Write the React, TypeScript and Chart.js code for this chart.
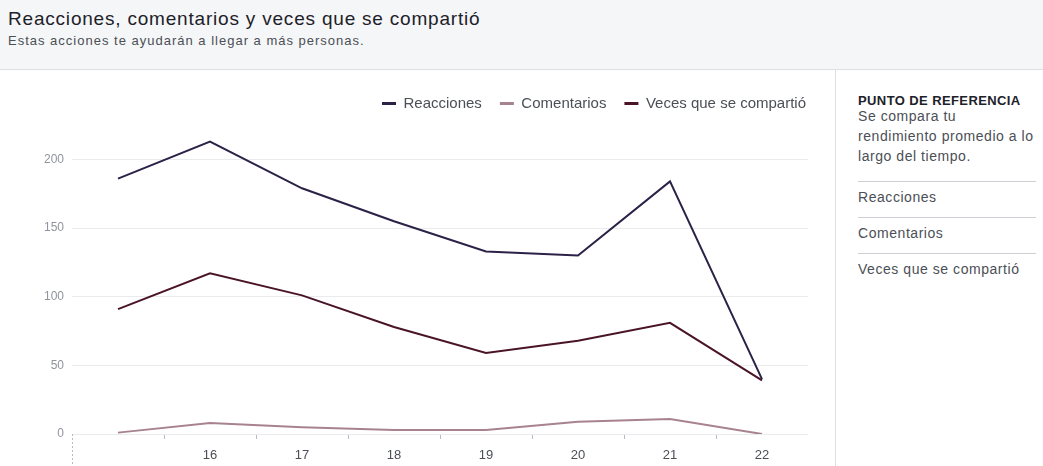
import React, { useEffect, useRef } from "react";
import { Chart, registerables } from "chart.js";

Chart.register(...registerables);

const FONT = '"Liberation Sans", Arial, Helvetica, sans-serif';

const titleText = "Reacciones, comentarios y veces que se compartió";
const subtitleText = "Estas acciones te ayudarán a llegar a más personas.";

const days = ["15", "16", "17", "18", "19", "20", "21", "22"];
const dayTickLabels = ["", "16", "17", "18", "19", "20", "21", "22"];
const reacciones = [186, 213, 179, 155, 133, 130, 184, 40];
const comentarios = [1, 8, 5, 3, 3, 9, 11, 0];
const compartido = [91, 117, 101, 78, 59, 68, 81, 39];
const yTickValues = [0, 50, 100, 150, 200];

const seriesNames = ["Reacciones", "Comentarios", "Veces que se compartió"];
const seriesColors = ["#2c2147", "#a8838f", "#4a1428"];

const benchmarkTitle = "PUNTO DE REFERENCIA";
const benchmarkDescLines = ["Se compara tu", "rendimiento promedio a lo", "largo del tiempo."];
const benchmarkItems = ["Reacciones", "Comentarios", "Veces que se compartió"];

const dottedAxisPlugin = {
  id: "dottedAxis",
  afterDraw(chart: any) {
    const { ctx, chartArea } = chart;
    ctx.save();
    ctx.strokeStyle = "#b7bac0";
    ctx.lineWidth = 1;
    ctx.setLineDash([2, 2]);
    ctx.beginPath();
    const x = Math.round(chartArea.left) + 0.5;
    ctx.moveTo(x, chartArea.bottom);
    ctx.lineTo(x, chart.height);
    ctx.stroke();
    ctx.restore();
  },
};

export default function App() {
  const canvasRef = useRef<HTMLCanvasElement>(null);

  useEffect(() => {
    document.body.style.margin = "0";
    Chart.defaults.font.family = FONT;
    const seriesValues = [reacciones, comentarios, compartido];
    const chart = new Chart(canvasRef.current as HTMLCanvasElement, {
      type: "line",
      data: {
        labels: days,
        datasets: seriesNames.map((name, i) => ({
          label: name,
          data: seriesValues[i],
          borderColor: seriesColors[i],
          backgroundColor: seriesColors[i],
          borderWidth: 2,
          pointRadius: 0,
          tension: 0,
          fill: false,
          yAxisID: "y",
        })),
      },
      options: {
        responsive: false,
        animation: false,
        layout: { padding: { left: 0, right: 12, top: 8, bottom: 0 } },
        plugins: {
          tooltip: { enabled: false },
          legend: {
            position: "top",
            align: "end",
            labels: {
              boxWidth: 14,
              boxHeight: 3,
              padding: 18,
              color: "#4b4f56",
              font: { size: 15, family: FONT },
              generateLabels: (c: any) =>
                c.data.datasets.map((d: any, i: number) => ({
                  text: d.label,
                  fillStyle: seriesColors[i],
                  strokeStyle: seriesColors[i],
                  lineWidth: 0,
                  hidden: false,
                  datasetIndex: i,
                  fontColor: "#4b4f56",
                })),
            },
          },
        },
        scales: {
          x: {
            offset: true,
            border: { display: false },
            grid: {
              display: true,
              offset: true,
              drawOnChartArea: false,
              drawTicks: true,
              tickLength: 5,
              color: (ctx: any) =>
                ctx.type !== "tick" || ctx.index === 0 ? "rgba(0,0,0,0)" : "#b9bcc1",
            },
            afterFit: (s: any) => {
              s.height = 32;
            },
            ticks: {
              autoSkip: false,
              maxRotation: 0,
              padding: 9,
              color: "#4b4f56",
              font: { size: 13, family: FONT },
              callback: (_v: any, i: number) => dayTickLabels[i],
            },
          },
          y: {
            position: "left",
            min: 0,
            max: 228,
            border: { display: false },
            grid: { color: "#e9ebee", drawTicks: false },
            afterBuildTicks: (s: any) => {
              s.ticks = yTickValues.map((v) => ({ value: v }));
            },
            afterFit: (s: any) => {
              s.width = 72;
            },
            ticks: {
              padding: 8,
              color: "#90949c",
              font: { size: 12, family: FONT },
            },
          },
          y2: {
            position: "right",
            display: true,
            border: { display: false },
            grid: { display: false },
            ticks: { display: false },
            afterFit: (s: any) => {
              s.width = 16;
            },
          },
        },
      },
      plugins: [dottedAxisPlugin],
    } as any);
    return () => chart.destroy();
  }, []);

  const panelText: React.CSSProperties = {
    position: "absolute",
    left: 858,
    fontSize: 14,
    lineHeight: "20px",
    color: "#4b4f56",
    letterSpacing: "0.55px",
    whiteSpace: "nowrap",
  };

  return (
    <div
      style={{
        position: "fixed",
        left: 0,
        top: 0,
        width: 1043,
        height: 466,
        overflow: "hidden",
        background: "#ffffff",
        fontFamily: FONT,
      }}
    >
      <div
        style={{
          position: "absolute",
          left: 0,
          top: 0,
          width: 1043,
          height: 69,
          background: "#f5f6f7",
          borderBottom: "1px solid #dddfe2",
        }}
      >
        <div
          style={{
            position: "absolute",
            left: 8,
            top: 8,
            fontSize: 19,
            lineHeight: "22px",
            color: "#1d2129",
            letterSpacing: "0.8px",
            whiteSpace: "nowrap",
          }}
        >
          {titleText}
        </div>
        <div
          style={{
            position: "absolute",
            left: 8,
            top: 33,
            fontSize: 13,
            lineHeight: "16px",
            color: "#4b4f56",
            letterSpacing: "1px",
            whiteSpace: "nowrap",
          }}
        >
          {subtitleText}
        </div>
      </div>
      <canvas
        ref={canvasRef}
        width={836}
        height={396}
        style={{ position: "absolute", left: 0, top: 70, width: 836, height: 396 }}
      />
      <div style={{ position: "absolute", left: 835, top: 70, width: 1, height: 396, background: "#dddfe2" }} />
      <div
        style={{
          position: "absolute",
          left: 858,
          top: 93,
          fontSize: 13,
          lineHeight: "16px",
          fontWeight: "bold",
          color: "#1d2129",
          letterSpacing: "0.4px",
          whiteSpace: "nowrap",
        }}
      >
        {benchmarkTitle}
      </div>
      <div style={{ ...panelText, top: 106 }}>
        {benchmarkDescLines.map((l, i) => (
          <div key={i}>{l}</div>
        ))}
      </div>
      {benchmarkItems.map((item, i) => (
        <React.Fragment key={item}>
          <div
            style={{
              position: "absolute",
              left: 858,
              top: 181 + i * 36,
              width: 178,
              height: 1,
              background: "#ccd0d5",
            }}
          />
          <div style={{ ...panelText, top: 187 + i * 36 }}>{item}</div>
        </React.Fragment>
      ))}
    </div>
  );
}
